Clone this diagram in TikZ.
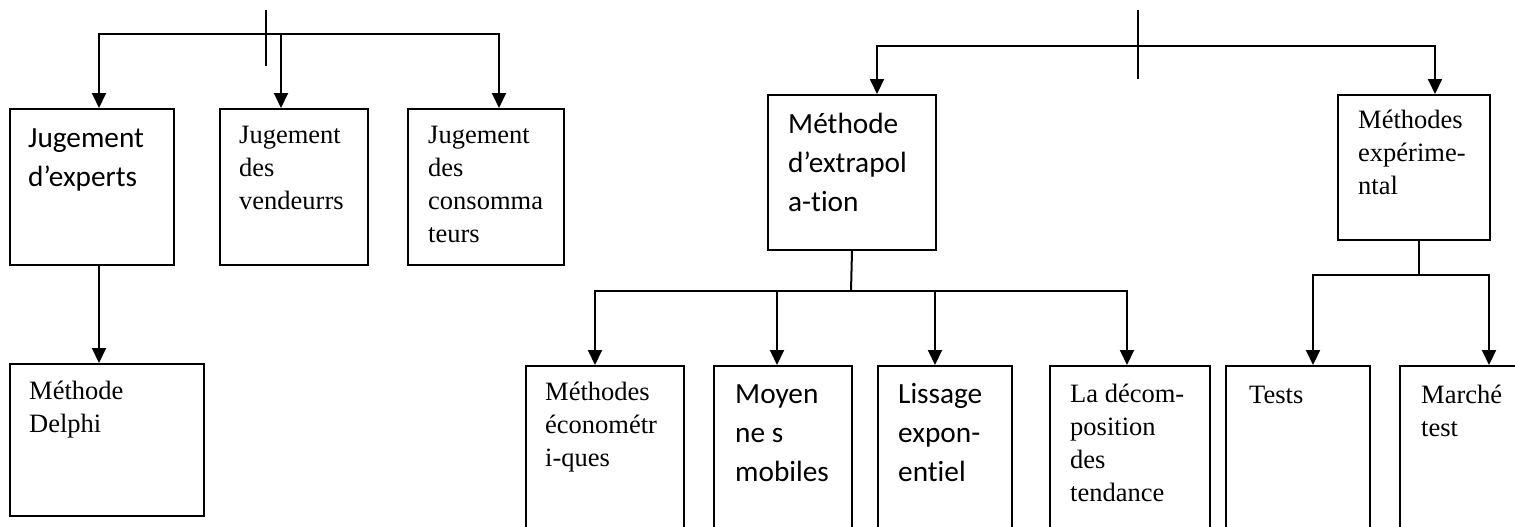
\documentclass[tikz,border=0pt]{standalone}
\usepackage{fontspec}
\newfontfamily\calib[Ligatures=NoCommon]{Carlito}
\newfontfamily\tms{Liberation Serif}
\usetikzlibrary{arrows.meta,calc}
\newcommand\topstr{\rule{0pt}{30pt}}
\begin{document}
\begin{tikzpicture}[x=1pt,y=-1pt,
  box/.style={draw, line width=2pt, inner sep=0pt, anchor=north west},
  tc/.style={anchor=north west, inner sep=0pt, align=left, font=\calib\fontsize{29.3}{38.9}\selectfont},
  tt/.style={anchor=north west, inner sep=0pt, align=left, font=\tms\fontsize{26.5}{33.2}\selectfont},
  arr/.style={line width=2pt, -{Triangle[width=14pt,length=15pt]}},
  ln/.style={line width=2pt},
  tick/.style={line width=1.6pt}]
\useasboundingbox (0,0) rectangle (1515,527);
\fill[white] (0,0) rectangle (1515,527);
\clip (0,0) rectangle (1515,527);

% ---------- left group boxes
\node[box, minimum width=164pt, minimum height=156pt] (b1) at (9,108) {};
\node[box, minimum width=148pt, minimum height=156pt] (b2) at (219,108) {};
\node[box, minimum width=156pt, minimum height=156pt] (b3) at (407,108) {};
\node[box, minimum width=194pt, minimum height=152pt] (b4) at (9,363) {};

\node[tc] (t1) at ($(b1.north west)+(19,9)$) {\topstr Jugement\\d’experts};
\node[tt] (t2) at ($(b2.north west)+(20,5)$) {\topstr Jugement\\des\\vendeurrs};
\node[tt] (t3) at ($(b3.north west)+(21,5)$) {\topstr Jugement\\des\\consomma\\teurs};
\node[tt] (t4) at ($(b4.north west)+(20,6)$) {\topstr Méthode\\Delphi};

% ---------- right group boxes
\node[box, minimum width=168pt, minimum height=155pt] (b5) at (767,94) {};
\node[box, minimum width=152pt, minimum height=145pt] (b6) at (1337,94) {};
\node[tc] (t5) at ($(b5.north west)+(21,9)$) {\topstr Méthode\\d’extrapol\\a-tion};
\node[tt] (t6) at ($(b6.north west)+(21,4)$) {\topstr Méthodes\\expérime-\\ntal};

% ---------- bottom boxes
\node[box, minimum width=158pt, minimum height=180pt] (c1) at (525,365) {};
\node[box, minimum width=138pt, minimum height=180pt] (c2) at (713,365) {};
\node[box, minimum width=134pt, minimum height=180pt] (c3) at (877,365) {};
\node[box, minimum width=160pt, minimum height=180pt] (c4) at (1049,365) {};
\node[box, minimum width=144pt, minimum height=180pt] (c5) at (1225,365) {};
\node[box, minimum width=144pt, minimum height=180pt] (c6) at (1399,365) {};

\node[tt] (s1) at ($(c1.north west)+(20,5)$) {\topstr Méthodes\\économétr\\i-ques};
\node[tc] (s2) at ($(c2.north west)+(22,8)$) {\topstr Moyen\\ne s\\mobiles};
\node[tc] (s3) at ($(c3.north west)+(21,8)$) {\topstr Lissage\\expon-\\entiel};
\node[tt] (s4) at ($(c4.north west)+(21,7)$) {\topstr La décom-\\position\\des\\tendance};
\node[tt] (s5) at ($(c5.north west)+(24,8)$) {\topstr Tests};
\node[tt] (s6) at ($(c6.north west)+(22,8)$) {\topstr Marché\\test};

% ---------- left top bus
\coordinate (ta) at (266,10);
\coordinate (tb) at (266,66);
\draw[tick] (ta) -- (tb);
\coordinate (L1) at (99,34);
\coordinate (L2) at (281,34);
\coordinate (L3) at (499,34);
\draw[arr] (L2) -| (L1 |- b1.north);
\draw[arr] (L2) -| (L3 |- b3.north);
\draw[arr] (L2) -- (L2 |- b2.north);
\draw[arr] (L1 |- b1.south) -- (L1 |- b4.north);

% ---------- right top bus
\coordinate (ra) at (1138,10);
\coordinate (rb) at (1138,79);
\draw[tick] (ra) -- (rb);
\coordinate (R1) at (877,46);
\coordinate (R2) at (1435,46);
\draw[arr] (ra |- R1) -| (R1 |- b5.north);
\draw[arr] (ra |- R1) -| (R2 |- b6.north);

% ---------- extrapolation bus
\coordinate (E0) at (851,291);
\coordinate (E1) at (595,291);
\coordinate (E2) at (777,291);
\coordinate (E3) at (935,291);
\coordinate (E4) at (1127,291);
\draw[ln] (b5.south) -- (E0);
\draw[arr] (E0) -| (E1 |- c1.north);
\draw[arr] (E0) -| (E4 |- c4.north);
\draw[arr] (E2) -- (E2 |- c2.north);
\draw[arr] (E3) -- (E3 |- c3.north);

% ---------- experimental bus
\coordinate (X0) at (1419,275);
\coordinate (X1) at (1313,275);
\coordinate (X2) at (1489,275);
\draw[ln] (X0 |- b6.south) -- (X0);
\draw[arr] (X0) -| (X1 |- c5.north);
\draw[arr] (X0) -| (X2 |- c6.north);
\end{tikzpicture}
\end{document}
